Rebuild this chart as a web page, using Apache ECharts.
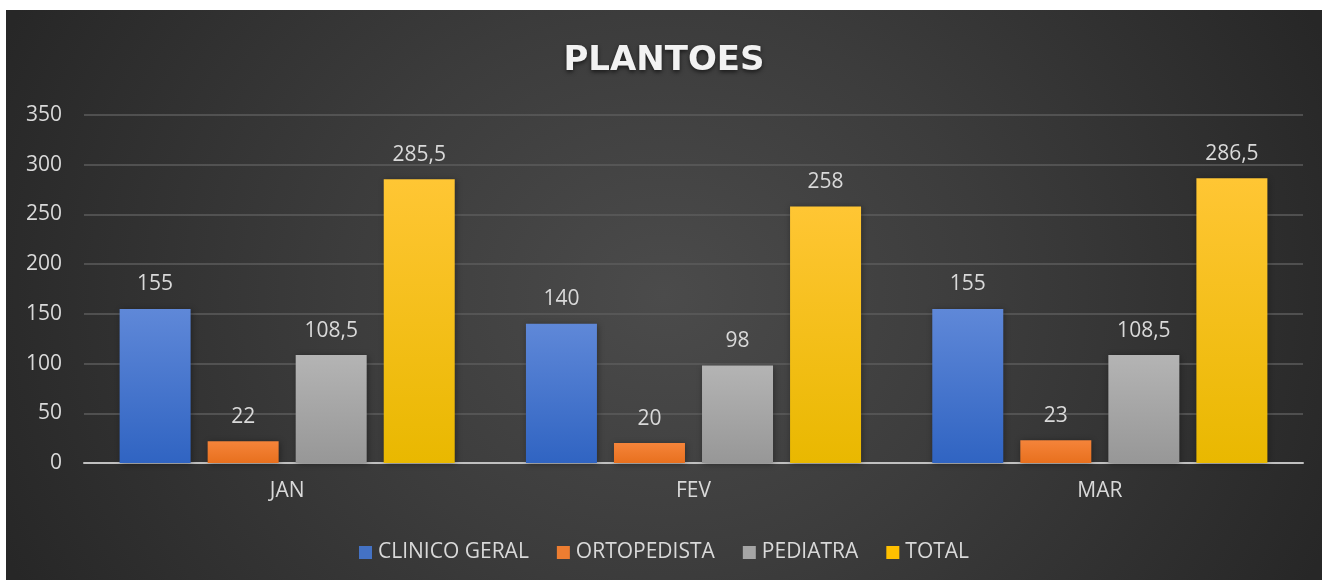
<!DOCTYPE html>
<html>
<head>
<meta charset="utf-8">
<script src="https://cdn.jsdelivr.net/npm/echarts@6/dist/echarts.min.js"></script>
<style>
  html, body { margin: 0; padding: 0; background: #ffffff; width: 1322px; height: 580px; overflow: hidden; }
  #chart {
    position: absolute; left: 6px; top: 10px; width: 1316px; height: 570px;
    background:
      radial-gradient(ellipse 55% 110% at 50% 50%, rgba(75,75,75,1) 0%, rgba(60,60,60,1) 45%, rgba(39,39,39,1) 100%);
  }
</style>
</head>
<body>
<div id="chart"></div>
<script>
const titleText = 'PLANTOES';
const categories = ['JAN', 'FEV', 'MAR'];
const seriesNames = ['CLINICO GERAL', 'ORTOPEDISTA', 'PEDIATRA', 'TOTAL'];
const clinicoGeral = [155, 140, 155];
const ortopedista = [22, 20, 23];
const pediatra = [108.5, 98, 108.5];
const total = [285.5, 258, 286.5];
const yTicks = [0, 50, 100, 150, 200, 250, 300, 350];

const seriesData = [clinicoGeral, ortopedista, pediatra, total];
const gradients = [
  ['#5f88d8', '#3064c2'],
  ['#f5843a', '#e8701e'],
  ['#b4b4b4', '#979797'],
  ['#ffc634', '#e9b800']
];
const legendColors = ['#4472c4', '#ed7d31', '#a5a5a5', '#ffc000'];
const textColor = '#d9d9d9';
const fontFamily = '"Open Sans", "Noto Sans", sans-serif';

function fmt(v) { return String(v).replace('.', ','); }

const chart = echarts.init(document.getElementById('chart'), null, { renderer: 'canvas' });
chart.setOption({
  backgroundColor: 'transparent',
  animation: false,
  title: {
    text: titleText,
    left: 'center',
    top: 29,
    textStyle: {
      color: '#f2f2f2',
      fontFamily: '"DejaVu Sans", sans-serif',
      fontWeight: 'bold',
      fontSize: 34,
      textShadowColor: 'rgba(0,0,0,0.6)',
      textShadowBlur: 4,
      textShadowOffsetY: 2
    }
  },
  legend: {
    data: seriesNames.map((n, i) => ({ name: n, itemStyle: { color: legendColors[i] } })),
    left: 'center',
    top: 527,
    icon: 'rect',
    itemWidth: 13,
    itemHeight: 13,
    itemGap: 28,
    textStyle: { color: textColor, fontFamily: fontFamily, fontSize: 21, padding: [0, 0, 0, 1] }
  },
  grid: { left: 78, right: 19, top: 105, bottom: 117, containLabel: false },
  xAxis: {
    type: 'category',
    data: categories,
    axisLine: { lineStyle: { color: '#c0c0c0', width: 2 } },
    axisTick: { show: false },
    axisLabel: { color: textColor, fontFamily: fontFamily, fontSize: 21, margin: 18 }
  },
  yAxis: {
    type: 'value',
    min: yTicks[0],
    max: yTicks[yTicks.length - 1],
    interval: 50,
    axisLine: { show: false },
    axisTick: { show: false },
    splitLine: { lineStyle: { color: '#5c5c5c', width: 1.5 } },
    axisLabel: { color: textColor, fontFamily: fontFamily, fontSize: 21, margin: 22 }
  },
  series: seriesNames.map((name, i) => ({
    name: name,
    type: 'bar',
    data: seriesData[i],
    barWidth: 71,
    barGap: '24%',
    itemStyle: {
      color: new echarts.graphic.LinearGradient(0, 0, 0, 1, [
        { offset: 0, color: gradients[i][0] },
        { offset: 1, color: gradients[i][1] }
      ]),
      shadowColor: 'rgba(0,0,0,0.35)',
      shadowBlur: 6,
      shadowOffsetX: 1,
      shadowOffsetY: 1
    },
    label: {
      show: true,
      position: 'top',
      distance: 14,
      color: textColor,
      fontFamily: fontFamily,
      fontSize: 21,
      formatter: p => fmt(p.value)
    }
  }))
});
</script>
</body>
</html>
